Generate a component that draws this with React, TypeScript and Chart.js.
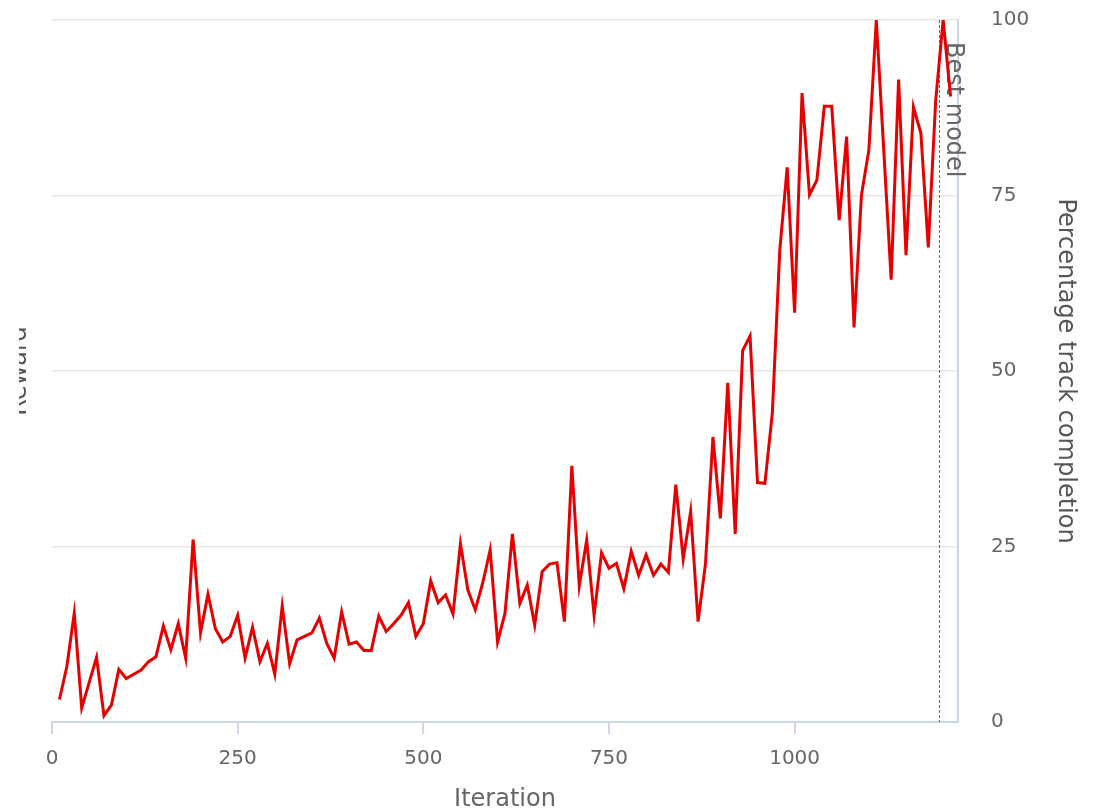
import React, { useEffect, useRef } from "react";
import { Chart, registerables } from "chart.js";

Chart.register(...registerables);

const iterations = [
  10, 20, 30, 40, 50, 60, 70, 80, 90, 100,
  110, 120, 130, 140, 150, 160, 170, 180, 190, 200,
  210, 220, 230, 240, 250, 260, 270, 280, 290, 300,
  310, 320, 330, 340, 350, 360, 370, 380, 390, 400,
  410, 420, 430, 440, 450, 460, 470, 480, 490, 500,
  510, 520, 530, 540, 550, 560, 570, 580, 590, 600,
  610, 620, 630, 640, 650, 660, 670, 680, 690, 700,
  710, 720, 730, 740, 750, 760, 770, 780, 790, 800,
  810, 820, 830, 840, 850, 860, 870, 880, 890, 900,
  910, 920, 930, 940, 950, 960, 970, 980, 990, 1000,
  1010, 1020, 1030, 1040, 1050, 1060, 1070, 1080, 1090, 1100,
  1110, 1120, 1130, 1140, 1150, 1160, 1170, 1180, 1190, 1200,
  1210,
];

const trackCompletion = [
  3.2, 7.9, 15.5, 2.0, 5.6, 9.2, 0.9, 2.4, 7.5, 6.2,
  6.8, 7.4, 8.6, 9.3, 13.7, 10.3, 14.0, 9.1, 26.0, 12.7,
  18.2, 13.3, 11.4, 12.2, 15.2, 9.1, 13.5, 8.6, 11.2, 6.8,
  16.5, 8.3, 11.7, 12.2, 12.7, 14.8, 11.2, 9.1, 15.7, 11.1,
  11.4, 10.2, 10.2, 15.1, 12.9, 14.0, 15.2, 17.0, 12.2, 14.0,
  20.1, 17.0, 18.1, 15.4, 25.4, 18.8, 16.0, 19.8, 24.5, 11.4,
  15.5, 26.8, 16.9, 19.5, 13.8, 21.4, 22.5, 22.7, 14.3, 36.5,
  19.4, 25.9, 15.2, 24.1, 21.9, 22.6, 19.0, 24.3, 20.9, 23.8,
  20.9, 22.5, 21.3, 33.8, 23.2, 30.0, 14.3, 22.6, 40.6, 29.0,
  48.3, 26.8, 52.9, 55.0, 34.1, 34.0, 44.0, 67.2, 79.0, 58.3,
  89.6, 75.1, 77.2, 87.7, 87.7, 71.5, 83.4, 56.2, 75.1, 81.5,
  100, 81.5, 63.0, 91.5, 66.5, 87.6, 83.9, 67.6, 88.6, 100,
  89.1,
];

const xTickValues = [0, 250, 500, 750, 1000];
const yTickValues = [0, 25, 50, 75, 100];
const bestModelIteration = 1195;
const bestModelLabel = "Best model";
const xTitle = "Iteration";
const rightTitle = "Percentage track completion";
const leftTitle = "Reward";

const FONT = "'DejaVu Sans', sans-serif";

export default function App() {
  const ref = useRef<HTMLCanvasElement | null>(null);

  useEffect(() => {
    if (!ref.current) return;

    const plotLinePlugin = {
      id: "bestModelLine",
      beforeDatasetsDraw(chart: any) {
        const { ctx, chartArea, scales } = chart;
        const px = scales.x.getPixelForValue(bestModelIteration);
        ctx.save();
        ctx.strokeStyle = "#666666";
        ctx.lineWidth = 1;
        ctx.setLineDash([3, 2]);
        ctx.beginPath();
        ctx.moveTo(Math.round(px) + 0.5, chartArea.top);
        ctx.lineTo(Math.round(px) + 0.5, chartArea.bottom);
        ctx.stroke();
        ctx.setLineDash([]);
        ctx.translate(px + 7.5, chartArea.top + 22);
        ctx.rotate(Math.PI / 2);
        ctx.font = `24px ${FONT}`;
        ctx.fillStyle = "#666666";
        ctx.textAlign = "left";
        ctx.textBaseline = "alphabetic";
        ctx.fillText(bestModelLabel, 0, 0);
        ctx.restore();
      },
    };

    const chart = new Chart(ref.current, {
      type: "line",
      data: {
        datasets: [
          {
            label: rightTitle,
            data: iterations.map((it, i) => ({ x: it, y: trackCompletion[i] })),
            borderColor: "#e60000",
            backgroundColor: "#e60000",
            borderWidth: 3,
            pointRadius: 0,
            tension: 0,
            yAxisID: "y",
            xAxisID: "x",
          },
        ],
      },
      options: {
        animation: false,
        responsive: true,
        maintainAspectRatio: false,
        layout: { padding: { top: 20, right: 13, bottom: 0, left: 0 } },
        plugins: {
          legend: { display: false },
          tooltip: { enabled: false },
        },
        font: { family: FONT },
        scales: {
          x: {
            type: "linear",
            position: "bottom",
            min: 0,
            max: 1220,
            afterBuildTicks: (s: any) => {
              s.ticks = xTickValues.map((v) => ({ value: v }));
            },
            afterFit: (s: any) => {
              s.height = 86;
              s.paddingLeft = 0;
              s.paddingRight = 0;
            },
            ticks: {
              color: "#666666",
              font: { family: FONT, size: 20 },
              padding: 13,
              maxRotation: 0,
              callback: (v: any) => String(v),
            },
            grid: {
              display: true,
              drawOnChartArea: false,
              drawTicks: true,
              tickLength: 12,
              color: "#ccd6eb",
              lineWidth: 2,
            },
            border: { display: true, color: "#ccd6eb", width: 2 },
            title: {
              display: true,
              text: xTitle,
              color: "#666666",
              font: { family: FONT, size: 24, lineHeight: 1 },
              padding: { top: 0, bottom: -4 },
            },
          },
          y: {
            type: "linear",
            position: "right",
            min: 0,
            max: 100,
            afterBuildTicks: (s: any) => {
              s.ticks = yTickValues.map((v) => ({ value: v }));
            },
            afterFit: (s: any) => {
              s.width = 126;
              s.paddingTop = 0;
              s.paddingBottom = 0;
            },
            ticks: {
              color: "#666666",
              font: { family: FONT, size: 20 },
              padding: 33,
              callback: (v: any) => String(v),
            },
            grid: {
              color: "#e6e6e6",
              lineWidth: 1.5,
              drawTicks: false,
            },
            border: { display: true, color: "#ccd6eb", width: 2 },
            title: {
              display: true,
              text: rightTitle,
              color: "#555555",
              font: { family: FONT, size: 24 },
              padding: { top: 4, bottom: 4 },
            },
          },
          yLeft: {
            type: "linear",
            position: "left",
            min: 0,
            max: 100,
            afterFit: (s: any) => {
              s.width = 49;
              s.paddingTop = 0;
              s.paddingBottom = 0;
            },
            ticks: { display: false },
            grid: { display: false, drawTicks: false },
            border: { display: false },
            title: {
              display: true,
              text: leftTitle,
              color: "#555555",
              font: { family: FONT, size: 24 },
              padding: { top: 2, bottom: 2 },
            },
          },
        },
      },
      plugins: [plotLinePlugin],
    } as any);

    return () => chart.destroy();
  }, []);

  return (
    <div
      style={{
        position: "fixed",
        left: 19,
        top: 0,
        width: 1078,
        height: 808,
        overflow: "hidden",
        background: "#ffffff",
      }}
    >
      <div style={{ position: "absolute", left: -16, top: 0, width: 1094, height: 808 }}>
        <canvas ref={ref} style={{ display: "block" }} />
      </div>
    </div>
  );
}
